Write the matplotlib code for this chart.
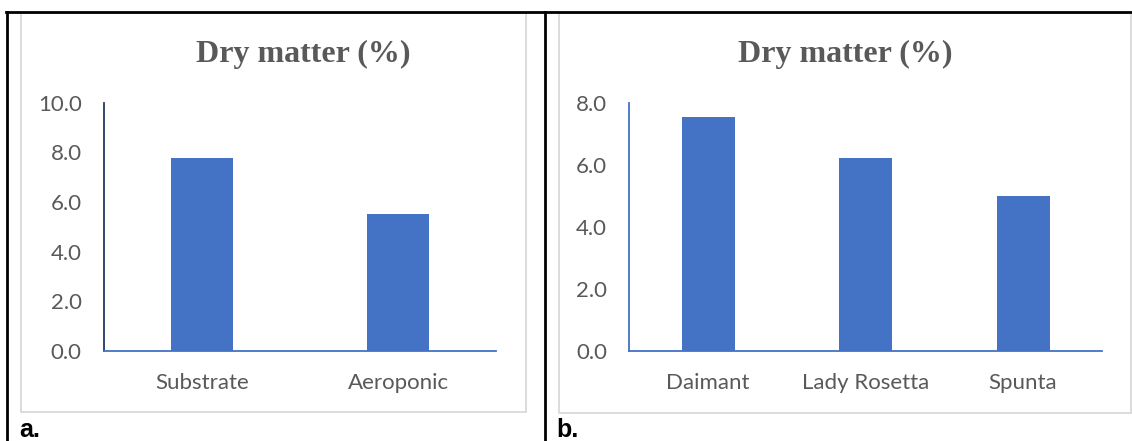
import matplotlib
matplotlib.use("Agg")
import matplotlib.pyplot as plt
from matplotlib.lines import Line2D
from matplotlib.patches import Rectangle

# Data
cats_a = ["Substrate", "Aeroponic"]
vals_a = [7.78, 5.52]
yticks_a = [0, 2, 4, 6, 8, 10]

cats_b = ["Daimant", "Lady Rosetta", "Spunta"]
vals_b = [7.54, 6.22, 5.00]
yticks_b = [0, 2, 4, 6, 8]

title = "Dry matter (%)"
panel_labels = ["a.", "b."]

W, H = 1132, 441
DPI = 100
fig = plt.figure(figsize=(W / DPI, H / DPI), dpi=DPI)
fig.patch.set_facecolor("white")

BAR = "#4472C4"
TXT = "#595959"


def fx(px):
    return px / W


def fy(py):
    return 1 - py / H


# outer black frame lines
for (x0, y0, x1, y1) in [(6, 12, W, 12), (6.5, 12, 6.5, H), (545, 12, 545, H)]:
    fig.add_artist(Line2D([fx(x0), fx(x1)], [fy(y0), fy(y1)], color="black", lw=2.0,
                          transform=fig.transFigure))

# gray chart frames
for (x0, y0, x1, y1) in [(21, 13, 526, 412), (559, 13, 1131, 413)]:
    fig.add_artist(Rectangle((fx(x0), fy(y1)), fx(x1 - x0), (y1 - y0) / H,
                             transform=fig.transFigure, fill=False,
                             edgecolor="#D9D9D9", lw=1.3))


def make_panel(ax, cats, vals, yticks, width, ycolor):
    x = list(range(len(cats)))
    ax.bar(x, vals, width=width, color=BAR, zorder=2)
    ax.set_xlim(-0.5, len(cats) - 0.5)
    ax.set_ylim(yticks[0], yticks[-1])
    ax.set_yticks(yticks)
    ax.set_yticklabels([f"{v:.1f}" for v in yticks])
    ax.set_xticks(x)
    ax.set_xticklabels(cats)
    for s in ["top", "right"]:
        ax.spines[s].set_visible(False)
    ax.spines["left"].set_color(ycolor)
    ax.spines["left"].set_linewidth(1.3)
    ax.spines["bottom"].set_color(BAR)
    ax.spines["bottom"].set_linewidth(1.3)
    ax.spines["bottom"].set_zorder(3)
    ax.tick_params(axis="y", length=0, pad=16, labelsize=16, labelcolor=TXT)
    ax.tick_params(axis="x", length=0, pad=15.5, labelsize=16, labelcolor=TXT)
    for lab in ax.get_xticklabels() + ax.get_yticklabels():
        lab.set_fontfamily("Lato")


axA = fig.add_axes([fx(104), fy(351), fx(392), (351 - 102.7) / H])
make_panel(axA, cats_a, vals_a, yticks_a, 0.316, "#1F3864")
axB = fig.add_axes([fx(629.3), fy(351), fx(472.5), (351 - 102.7) / H])
make_panel(axB, cats_b, vals_b, yticks_b, 0.337, BAR)

tfont = dict(family="Liberation Serif", weight="bold", size=23, color=TXT)
fig.text(fx(303), fy(54), title, ha="center", va="center", **tfont)
fig.text(fx(845), fy(54), title, ha="center", va="center", **tfont)

lfont = dict(family="Liberation Sans", weight="bold", size=18, color="black")
fig.text(fx(19), fy(437), panel_labels[0], ha="left", va="baseline", **lfont)
fig.text(fx(556), fy(437), panel_labels[1], ha="left", va="baseline", **lfont)

fig.savefig("out.png", dpi=DPI, facecolor="white")
